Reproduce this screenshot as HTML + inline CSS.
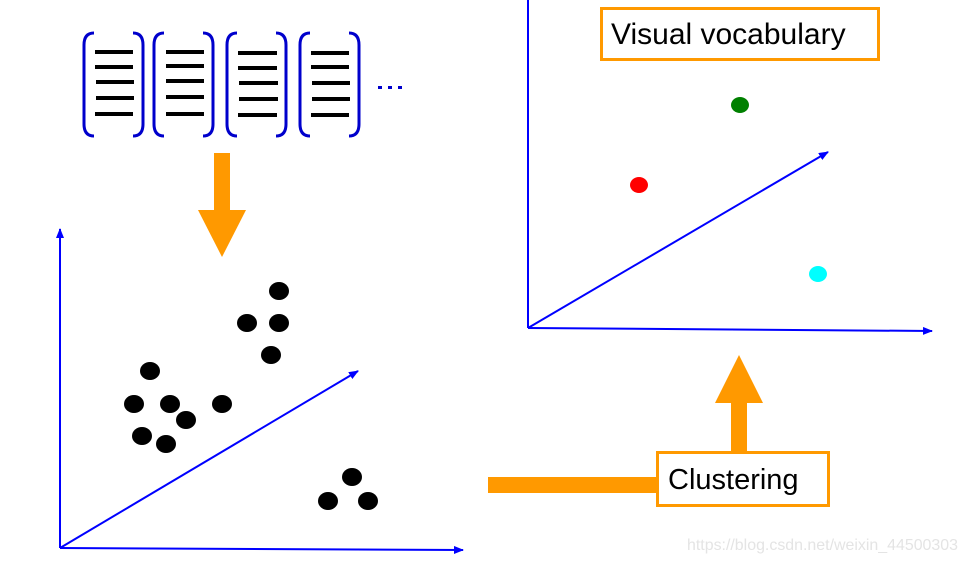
<!DOCTYPE html>
<html><head><meta charset="utf-8"><style>
html,body{margin:0;padding:0;background:#fff;width:968px;height:562px;overflow:hidden}
svg{display:block}
text{font-family:"Liberation Sans",sans-serif}
</style></head><body>
<svg width="968" height="562" viewBox="0 0 968 562" xmlns="http://www.w3.org/2000/svg">
<defs>
<marker id="ah" markerWidth="10" markerHeight="8" refX="9" refY="4" orient="auto" markerUnits="userSpaceOnUse">
<path d="M0,0 L10,4 L0,8 z" fill="#0000ff"/></marker>
</defs>
<g fill="none" stroke="#0000cc" stroke-width="3">
<path d="M94,33 Q84,33 84,45 L84,124 Q84,136 94,136"/><path d="M133,33 Q143,33 143,45 L143,124 Q143,136 133,136"/>
<path d="M164,33 Q154,33 154,45 L154,124 Q154,136 164,136"/><path d="M203,33 Q213,33 213,45 L213,124 Q213,136 203,136"/>
<path d="M237,33 Q227,33 227,45 L227,124 Q227,136 237,136"/><path d="M276,33 Q286,33 286,45 L286,124 Q286,136 276,136"/>
<path d="M310,33 Q300,33 300,45 L300,124 Q300,136 310,136"/><path d="M349,33 Q359,33 359,45 L359,124 Q359,136 349,136"/>
</g>
<g stroke="#000" stroke-width="4">
<path d="M95,52H133M95,67H133M96,82H134M96,98H134M95,114H133"/>
<path d="M166,52H204M166,66H204M166,81H204M166,97H204M166,114H204"/>
<path d="M238,53H277M238,68H277M239,83H278M239,99H278M238,115H277"/>
<path d="M311,53H349M311,67H349M312,83H350M312,99H350M311,115H349"/>
</g>
<g fill="#0000cc"><rect x="378" y="86" width="4" height="3"/><rect x="388" y="86" width="4" height="3"/><rect x="398" y="86" width="4" height="3"/></g>
<rect x="214" y="153" width="16" height="58" fill="#ff9900"/>
<path d="M198,210 L246,210 L222,257 z" fill="#ff9900"/>
<g stroke="#0000ff" stroke-width="2" fill="none">
<line x1="60" y1="548" x2="60" y2="229" marker-end="url(#ah)"/>
<line x1="60" y1="548" x2="463" y2="550" marker-end="url(#ah)"/>
<line x1="60" y1="548" x2="358" y2="371" marker-end="url(#ah)"/>
<line x1="528" y1="328" x2="528" y2="0"/>
<line x1="528" y1="328" x2="932" y2="331" marker-end="url(#ah)"/>
<line x1="528" y1="328" x2="828" y2="152" marker-end="url(#ah)"/>
</g>
<g fill="#000">
<ellipse cx="279" cy="291" rx="10" ry="9"/><ellipse cx="247" cy="323" rx="10" ry="9"/><ellipse cx="279" cy="323" rx="10" ry="9"/><ellipse cx="271" cy="355" rx="10" ry="9"/>
<ellipse cx="150" cy="371" rx="10" ry="9"/><ellipse cx="134" cy="404" rx="10" ry="9"/><ellipse cx="170" cy="404" rx="10" ry="9"/><ellipse cx="222" cy="404" rx="10" ry="9"/>
<ellipse cx="186" cy="420" rx="10" ry="9"/><ellipse cx="142" cy="436" rx="10" ry="9"/><ellipse cx="166" cy="444" rx="10" ry="9"/>
<ellipse cx="352" cy="477" rx="10" ry="9"/><ellipse cx="328" cy="501" rx="10" ry="9"/><ellipse cx="368" cy="501" rx="10" ry="9"/>
</g>
<ellipse cx="639" cy="185" rx="9" ry="8" fill="#ff0000"/>
<ellipse cx="740" cy="105" rx="9" ry="8" fill="#008000"/>
<ellipse cx="818" cy="274" rx="9" ry="8" fill="#00ffff"/>
<rect x="601.5" y="8.5" width="277" height="51" fill="#fff" stroke="#ff9900" stroke-width="3"/>
<text x="611" y="44" font-size="30" fill="#000">Visual vocabulary</text>
<rect x="488" y="477" width="170" height="16" fill="#ff9900"/>
<rect x="731" y="400" width="16" height="53" fill="#ff9900"/>
<path d="M715,403 L763,403 L739,355 z" fill="#ff9900"/>
<rect x="657.5" y="452.5" width="171" height="53" fill="#fff" stroke="#ff9900" stroke-width="3"/>
<text x="668" y="489" font-size="29" fill="#000">Clustering</text>
<text x="687" y="550" font-size="16" fill="#e4e4e4" textLength="271" lengthAdjust="spacingAndGlyphs">https://blog.csdn.net/weixin_44500303</text>
</svg>
</body></html>
